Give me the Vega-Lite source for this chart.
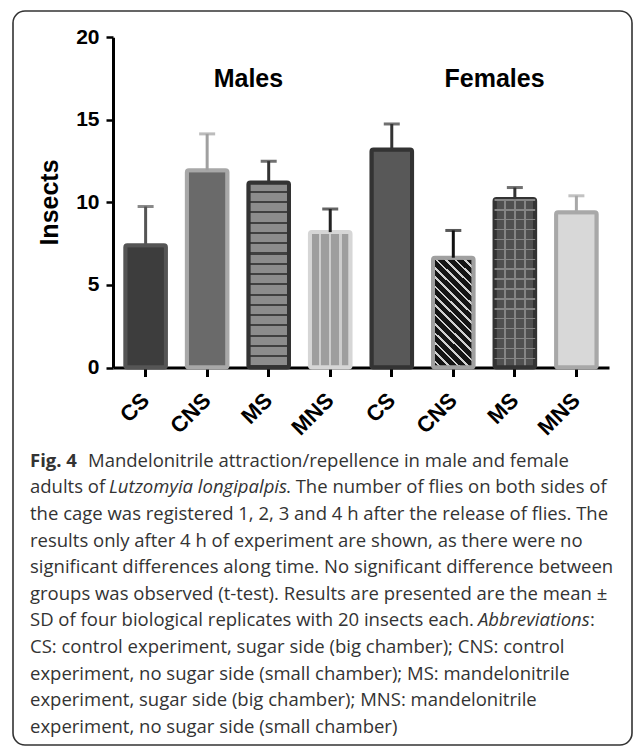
{
  "$schema": "https://vega.github.io/schema/vega-lite/v6.json",
  "width": 619,
  "height": 734,
  "autosize": {"type": "none"},
  "padding": {"left": 13, "top": 11, "right": 2, "bottom": 2},
  "background": "white",
  "view": {"stroke": "#333333", "strokeWidth": 1.6, "cornerRadius": 12},
  "config": {"font": "Liberation Sans"},
  "datasets": {
    "bars": [
      {"id": "M-CS", "group": "Males", "label": "CS", "mean": 7.4, "upper": 9.75},
      {"id": "M-CNS", "group": "Males", "label": "CNS", "mean": 11.95, "upper": 14.15},
      {"id": "M-MS", "group": "Males", "label": "MS", "mean": 11.2, "upper": 12.5},
      {"id": "M-MNS", "group": "Males", "label": "MNS", "mean": 8.2, "upper": 9.6},
      {"id": "F-CS", "group": "Females", "label": "CS", "mean": 13.2, "upper": 14.75},
      {"id": "F-CNS", "group": "Females", "label": "CNS", "mean": 6.65, "upper": 8.3},
      {"id": "F-MS", "group": "Females", "label": "MS", "mean": 10.2, "upper": 10.9},
      {"id": "F-MNS", "group": "Females", "label": "MNS", "mean": 9.4, "upper": 10.4}
    ]
  },
  "layer": [
    {
      "data": {"name": "bars"},
      "encoding": {
        "x": {
          "field": "id",
          "type": "nominal",
          "scale": {
            "domain": ["M-CS", "M-CNS", "M-MS", "M-MNS", "F-CS", "F-CNS", "F-MS", "F-MNS"],
            "range": [100, 596],
            "paddingInner": 0.34,
            "paddingOuter": 0.2
          },
          "axis": {
            "title": null,
            "offset": -377.5,
            "labelExpr": "split(datum.label, '-')[1]",
            "labelAngle": -45,
            "labelAlign": "right",
            "labelBaseline": "middle",
            "labelPadding": 20,
            "labelFont": "Liberation Sans",
            "labelFontWeight": "bold",
            "labelFontSize": 22,
            "labelColor": "black",
            "tickSize": 9,
            "tickWidth": 3,
            "tickColor": "black",
            "domainWidth": 3,
            "domainColor": "black",
            "grid": false
          }
        },
        "y": {
          "field": "mean",
          "type": "quantitative",
          "scale": {"domain": [0, 20], "range": [356.5, 26.3], "nice": false},
          "axis": {
            "title": "Insects",
            "values": [0, 5, 10, 15, 20],
            "offset": -100,
            "grid": false,
            "domainWidth": 3,
            "domainColor": "black",
            "tickColor": "black",
            "tickWidth": 2.5,
            "tickSize": 7,
            "labelFont": "Liberation Sans",
            "labelFontWeight": "bold",
            "labelFontSize": 21,
            "labelColor": "black",
            "labelPadding": 7,
            "titleFont": "Liberation Sans",
            "titleFontWeight": "bold",
            "titleFontSize": 25,
            "titleColor": "black",
            "titleAngle": -90,
            "titleAlign": "center",
            "titleBaseline": "alphabetic",
            "titleX": -56,
            "titleY": 191
          }
        }
      },
      "layer": [
        {
          "mark": {"type": "bar", "strokeWidth": 4, "cornerRadius": 2},
          "encoding": {
            "fill": {
              "condition": [
                {"test": "datum.id === 'M-MS'", "value": {"gradient": "linear", "x1": 0, "y1": 0, "x2": 0, "y2": 1, "stops": [
                  {"offset": 0, "color": "#8c8c8c"}, {"offset": 0.0444, "color": "#8c8c8c"}, {"offset": 0.0444, "color": "#404040"}, {"offset": 0.0556, "color": "#404040"},
                  {"offset": 0.0556, "color": "#8c8c8c"}, {"offset": 0.1, "color": "#8c8c8c"}, {"offset": 0.1, "color": "#404040"}, {"offset": 0.1111, "color": "#404040"},
                  {"offset": 0.1111, "color": "#8c8c8c"}, {"offset": 0.1556, "color": "#8c8c8c"}, {"offset": 0.1556, "color": "#404040"}, {"offset": 0.1667, "color": "#404040"},
                  {"offset": 0.1667, "color": "#8c8c8c"}, {"offset": 0.2111, "color": "#8c8c8c"}, {"offset": 0.2111, "color": "#404040"}, {"offset": 0.2222, "color": "#404040"},
                  {"offset": 0.2222, "color": "#8c8c8c"}, {"offset": 0.2667, "color": "#8c8c8c"}, {"offset": 0.2667, "color": "#404040"}, {"offset": 0.2778, "color": "#404040"},
                  {"offset": 0.2778, "color": "#8c8c8c"}, {"offset": 0.3222, "color": "#8c8c8c"}, {"offset": 0.3222, "color": "#404040"}, {"offset": 0.3333, "color": "#404040"},
                  {"offset": 0.3333, "color": "#8c8c8c"}, {"offset": 0.3778, "color": "#8c8c8c"}, {"offset": 0.3778, "color": "#404040"}, {"offset": 0.3889, "color": "#404040"},
                  {"offset": 0.3889, "color": "#8c8c8c"}, {"offset": 0.4333, "color": "#8c8c8c"}, {"offset": 0.4333, "color": "#404040"}, {"offset": 0.4444, "color": "#404040"},
                  {"offset": 0.4444, "color": "#8c8c8c"}, {"offset": 0.4889, "color": "#8c8c8c"}, {"offset": 0.4889, "color": "#404040"}, {"offset": 0.5, "color": "#404040"},
                  {"offset": 0.5, "color": "#8c8c8c"}, {"offset": 0.5444, "color": "#8c8c8c"}, {"offset": 0.5444, "color": "#404040"}, {"offset": 0.5556, "color": "#404040"},
                  {"offset": 0.5556, "color": "#8c8c8c"}, {"offset": 0.6, "color": "#8c8c8c"}, {"offset": 0.6, "color": "#404040"}, {"offset": 0.6111, "color": "#404040"},
                  {"offset": 0.6111, "color": "#8c8c8c"}, {"offset": 0.6556, "color": "#8c8c8c"}, {"offset": 0.6556, "color": "#404040"}, {"offset": 0.6667, "color": "#404040"},
                  {"offset": 0.6667, "color": "#8c8c8c"}, {"offset": 0.7111, "color": "#8c8c8c"}, {"offset": 0.7111, "color": "#404040"}, {"offset": 0.7222, "color": "#404040"},
                  {"offset": 0.7222, "color": "#8c8c8c"}, {"offset": 0.7667, "color": "#8c8c8c"}, {"offset": 0.7667, "color": "#404040"}, {"offset": 0.7778, "color": "#404040"},
                  {"offset": 0.7778, "color": "#8c8c8c"}, {"offset": 0.8222, "color": "#8c8c8c"}, {"offset": 0.8222, "color": "#404040"}, {"offset": 0.8333, "color": "#404040"},
                  {"offset": 0.8333, "color": "#8c8c8c"}, {"offset": 0.8778, "color": "#8c8c8c"}, {"offset": 0.8778, "color": "#404040"}, {"offset": 0.8889, "color": "#404040"},
                  {"offset": 0.8889, "color": "#8c8c8c"}, {"offset": 0.9333, "color": "#8c8c8c"}, {"offset": 0.9333, "color": "#404040"}, {"offset": 0.9444, "color": "#404040"},
                  {"offset": 0.9444, "color": "#8c8c8c"}, {"offset": 0.9889, "color": "#8c8c8c"}, {"offset": 0.9889, "color": "#404040"}, {"offset": 1, "color": "#404040"}
                ]}},
                {"test": "datum.id === 'M-MNS'", "value": {"gradient": "linear", "x1": 0, "y1": 0, "x2": 1, "y2": 0, "stops": [
                  {"offset": 0, "color": "#9e9e9e"}, {"offset": 0.22, "color": "#9e9e9e"}, {"offset": 0.22, "color": "#cdcdcd"}, {"offset": 0.28, "color": "#cdcdcd"},
                  {"offset": 0.28, "color": "#9e9e9e"}, {"offset": 0.47, "color": "#9e9e9e"}, {"offset": 0.47, "color": "#cdcdcd"}, {"offset": 0.53, "color": "#cdcdcd"},
                  {"offset": 0.53, "color": "#9e9e9e"}, {"offset": 0.72, "color": "#9e9e9e"}, {"offset": 0.72, "color": "#cdcdcd"}, {"offset": 0.78, "color": "#cdcdcd"},
                  {"offset": 0.78, "color": "#9e9e9e"}, {"offset": 1, "color": "#9e9e9e"}
                ]}},
                {"test": "datum.id === 'F-MS'", "value": {"gradient": "linear", "x1": 0, "y1": 0, "x2": 1, "y2": 0, "stops": [
                  {"offset": 0, "color": "#505050"}, {"offset": 0.23, "color": "#505050"}, {"offset": 0.23, "color": "#858585"}, {"offset": 0.27, "color": "#858585"},
                  {"offset": 0.27, "color": "#505050"}, {"offset": 0.48, "color": "#505050"}, {"offset": 0.48, "color": "#858585"}, {"offset": 0.52, "color": "#858585"},
                  {"offset": 0.52, "color": "#505050"}, {"offset": 0.73, "color": "#505050"}, {"offset": 0.73, "color": "#858585"}, {"offset": 0.77, "color": "#858585"},
                  {"offset": 0.77, "color": "#505050"}, {"offset": 1, "color": "#505050"}
                ]}},
                {"test": "datum.id === 'F-CNS'", "value": {"gradient": "linear", "x1": 0, "y1": 1, "x2": 0.438, "y2": -0.204, "stops": [
                  {"offset": 0, "color": "#151515"}, {"offset": 0.045, "color": "#151515"}, {"offset": 0.045, "color": "#d0d0d0"}, {"offset": 0.0625, "color": "#d0d0d0"},
                  {"offset": 0.0625, "color": "#151515"}, {"offset": 0.1075, "color": "#151515"}, {"offset": 0.1075, "color": "#d0d0d0"}, {"offset": 0.125, "color": "#d0d0d0"},
                  {"offset": 0.125, "color": "#151515"}, {"offset": 0.17, "color": "#151515"}, {"offset": 0.17, "color": "#d0d0d0"}, {"offset": 0.1875, "color": "#d0d0d0"},
                  {"offset": 0.1875, "color": "#151515"}, {"offset": 0.2325, "color": "#151515"}, {"offset": 0.2325, "color": "#d0d0d0"}, {"offset": 0.25, "color": "#d0d0d0"},
                  {"offset": 0.25, "color": "#151515"}, {"offset": 0.295, "color": "#151515"}, {"offset": 0.295, "color": "#d0d0d0"}, {"offset": 0.3125, "color": "#d0d0d0"},
                  {"offset": 0.3125, "color": "#151515"}, {"offset": 0.3575, "color": "#151515"}, {"offset": 0.3575, "color": "#d0d0d0"}, {"offset": 0.375, "color": "#d0d0d0"},
                  {"offset": 0.375, "color": "#151515"}, {"offset": 0.42, "color": "#151515"}, {"offset": 0.42, "color": "#d0d0d0"}, {"offset": 0.4375, "color": "#d0d0d0"},
                  {"offset": 0.4375, "color": "#151515"}, {"offset": 0.4825, "color": "#151515"}, {"offset": 0.4825, "color": "#d0d0d0"}, {"offset": 0.5, "color": "#d0d0d0"},
                  {"offset": 0.5, "color": "#151515"}, {"offset": 0.545, "color": "#151515"}, {"offset": 0.545, "color": "#d0d0d0"}, {"offset": 0.5625, "color": "#d0d0d0"},
                  {"offset": 0.5625, "color": "#151515"}, {"offset": 0.6075, "color": "#151515"}, {"offset": 0.6075, "color": "#d0d0d0"}, {"offset": 0.625, "color": "#d0d0d0"},
                  {"offset": 0.625, "color": "#151515"}, {"offset": 0.67, "color": "#151515"}, {"offset": 0.67, "color": "#d0d0d0"}, {"offset": 0.6875, "color": "#d0d0d0"},
                  {"offset": 0.6875, "color": "#151515"}, {"offset": 0.7325, "color": "#151515"}, {"offset": 0.7325, "color": "#d0d0d0"}, {"offset": 0.75, "color": "#d0d0d0"},
                  {"offset": 0.75, "color": "#151515"}, {"offset": 0.795, "color": "#151515"}, {"offset": 0.795, "color": "#d0d0d0"}, {"offset": 0.8125, "color": "#d0d0d0"},
                  {"offset": 0.8125, "color": "#151515"}, {"offset": 0.8575, "color": "#151515"}, {"offset": 0.8575, "color": "#d0d0d0"}, {"offset": 0.875, "color": "#d0d0d0"},
                  {"offset": 0.875, "color": "#151515"}, {"offset": 0.92, "color": "#151515"}, {"offset": 0.92, "color": "#d0d0d0"}, {"offset": 0.9375, "color": "#d0d0d0"},
                  {"offset": 0.9375, "color": "#151515"}, {"offset": 0.9825, "color": "#151515"}, {"offset": 0.9825, "color": "#d0d0d0"}, {"offset": 1, "color": "#d0d0d0"}
                ]}}
              ],
              "field": "id",
              "type": "nominal",
              "legend": null,
              "scale": {
                "domain": ["M-CS", "M-CNS", "M-MS", "M-MNS", "F-CS", "F-CNS", "F-MS", "F-MNS"],
                "range": ["#3d3d3d", "#6a6a6a", "#7a7a7a", "#ababab", "#585858", "#3a3a3a", "#5c5c5c", "#d8d8d8"]
              }
            },
            "stroke": {
              "field": "id",
              "type": "nominal",
              "legend": null,
              "scale": {
                "domain": ["M-CS", "M-CNS", "M-MS", "M-MNS", "F-CS", "F-CNS", "F-MS", "F-MNS"],
                "range": ["#555555", "#a8a8a8", "#333333", "#d6d6d6", "#333333", "#a0a0a0", "#333333", "#a8a8a8"]
              }
            }
          }
        },
        {
          "transform": [{"filter": "datum.id === 'F-MS'"}],
          "mark": {"type": "bar", "strokeWidth": 0, "fill": {"gradient": "linear", "x1": 0, "y1": 0, "x2": 0, "y2": 1, "stops": [
            {"offset": 0, "color": "#858585"}, {"offset": 0.009, "color": "#858585"}, {"offset": 0.009, "color": "rgba(0,0,0,0)"}, {"offset": 0.0588, "color": "rgba(0,0,0,0)"},
            {"offset": 0.0588, "color": "#858585"}, {"offset": 0.0678, "color": "#858585"}, {"offset": 0.0678, "color": "rgba(0,0,0,0)"}, {"offset": 0.1176, "color": "rgba(0,0,0,0)"},
            {"offset": 0.1176, "color": "#858585"}, {"offset": 0.1266, "color": "#858585"}, {"offset": 0.1266, "color": "rgba(0,0,0,0)"}, {"offset": 0.1765, "color": "rgba(0,0,0,0)"},
            {"offset": 0.1765, "color": "#858585"}, {"offset": 0.1855, "color": "#858585"}, {"offset": 0.1855, "color": "rgba(0,0,0,0)"}, {"offset": 0.2353, "color": "rgba(0,0,0,0)"},
            {"offset": 0.2353, "color": "#858585"}, {"offset": 0.2443, "color": "#858585"}, {"offset": 0.2443, "color": "rgba(0,0,0,0)"}, {"offset": 0.2941, "color": "rgba(0,0,0,0)"},
            {"offset": 0.2941, "color": "#858585"}, {"offset": 0.3031, "color": "#858585"}, {"offset": 0.3031, "color": "rgba(0,0,0,0)"}, {"offset": 0.3529, "color": "rgba(0,0,0,0)"},
            {"offset": 0.3529, "color": "#858585"}, {"offset": 0.3619, "color": "#858585"}, {"offset": 0.3619, "color": "rgba(0,0,0,0)"}, {"offset": 0.4118, "color": "rgba(0,0,0,0)"},
            {"offset": 0.4118, "color": "#858585"}, {"offset": 0.4208, "color": "#858585"}, {"offset": 0.4208, "color": "rgba(0,0,0,0)"}, {"offset": 0.4706, "color": "rgba(0,0,0,0)"},
            {"offset": 0.4706, "color": "#858585"}, {"offset": 0.4796, "color": "#858585"}, {"offset": 0.4796, "color": "rgba(0,0,0,0)"}, {"offset": 0.5294, "color": "rgba(0,0,0,0)"},
            {"offset": 0.5294, "color": "#858585"}, {"offset": 0.5384, "color": "#858585"}, {"offset": 0.5384, "color": "rgba(0,0,0,0)"}, {"offset": 0.5882, "color": "rgba(0,0,0,0)"},
            {"offset": 0.5882, "color": "#858585"}, {"offset": 0.5972, "color": "#858585"}, {"offset": 0.5972, "color": "rgba(0,0,0,0)"}, {"offset": 0.6471, "color": "rgba(0,0,0,0)"},
            {"offset": 0.6471, "color": "#858585"}, {"offset": 0.6561, "color": "#858585"}, {"offset": 0.6561, "color": "rgba(0,0,0,0)"}, {"offset": 0.7059, "color": "rgba(0,0,0,0)"},
            {"offset": 0.7059, "color": "#858585"}, {"offset": 0.7149, "color": "#858585"}, {"offset": 0.7149, "color": "rgba(0,0,0,0)"}, {"offset": 0.7647, "color": "rgba(0,0,0,0)"},
            {"offset": 0.7647, "color": "#858585"}, {"offset": 0.7737, "color": "#858585"}, {"offset": 0.7737, "color": "rgba(0,0,0,0)"}, {"offset": 0.8235, "color": "rgba(0,0,0,0)"},
            {"offset": 0.8235, "color": "#858585"}, {"offset": 0.8325, "color": "#858585"}, {"offset": 0.8325, "color": "rgba(0,0,0,0)"}, {"offset": 0.8824, "color": "rgba(0,0,0,0)"},
            {"offset": 0.8824, "color": "#858585"}, {"offset": 0.8914, "color": "#858585"}, {"offset": 0.8914, "color": "rgba(0,0,0,0)"}, {"offset": 0.9412, "color": "rgba(0,0,0,0)"},
            {"offset": 0.9412, "color": "#858585"}, {"offset": 0.9502, "color": "#858585"}, {"offset": 0.9502, "color": "rgba(0,0,0,0)"}, {"offset": 1, "color": "rgba(0,0,0,0)"}
          ]}},
          "encoding": {}
        },
        {
          "mark": {"type": "rule", "strokeWidth": 3},
          "encoding": {
            "y2": {"field": "upper"},
            "color": {
              "field": "id",
              "type": "nominal",
              "legend": null,
              "scale": {
                "domain": ["M-CS", "M-CNS", "M-MS", "M-MNS", "F-CS", "F-CNS", "F-MS", "F-MNS"],
                "range": ["#555555", "#a0a0a0", "#333333", "#222222", "#333333", "#111111", "#333333", "#a8a8a8"]
              }
            }
          }
        },
        {
          "mark": {"type": "tick", "thickness": 3, "size": 16},
          "encoding": {
            "y": {"field": "upper", "type": "quantitative"},
            "color": {"field": "id", "type": "nominal", "legend": null}
          }
        },
        {
          "transform": [{"filter": "datum.label === 'MS'"}],
          "mark": {"type": "text", "font": "Liberation Sans", "fontWeight": "bold", "fontSize": 25, "fill": "black", "align": "center", "baseline": "alphabetic"},
          "encoding": {
            "x": {"field": "id", "type": "nominal", "bandPosition": 0},
            "y": {"datum": 17},
            "text": {"field": "group"}
          }
        }
      ]
    },
    {
      "encoding": {
        "y": {"field": "line", "type": "quantitative", "scale": {"domain": [1, 11], "range": [455.7, 721.7]}, "axis": null},
        "text": {"field": "text"}
      },
      "layer": [
        {
          "data": {"values": [
            {"line": 2, "text": "adults of"},
            {"line": 3, "text": "the cage was registered 1, 2, 3 and 4 h after the release of flies. The"},
            {"line": 4, "text": "results only after 4 h of experiment are shown, as there were no"},
            {"line": 5, "text": "significant differences along time. No significant difference between"},
            {"line": 6, "text": "groups was observed (t-test). Results are presented are the mean ±"},
            {"line": 7, "text": "SD of four biological replicates with 20 insects each."},
            {"line": 8, "text": "CS: control experiment, sugar side (big chamber); CNS: control"},
            {"line": 9, "text": "experiment, no sugar side (small chamber); MS: mandelonitrile"},
            {"line": 10, "text": "experiment, sugar side (big chamber); MNS: mandelonitrile"},
            {"line": 11, "text": "experiment, no sugar side (small chamber)"}
          ]},
          "mark": {"type": "text", "font": "Open Sans", "fontSize": 18.5, "fill": "#333333", "align": "left", "baseline": "alphabetic"},
          "encoding": {"x": {"value": 17}}
        },
        {
          "data": {"values": [{"line": 1, "text": "Fig. 4"}]},
          "mark": {"type": "text", "font": "Open Sans", "fontWeight": "bold", "fontSize": 18.5, "fill": "#333333", "align": "left", "baseline": "alphabetic"},
          "encoding": {"x": {"value": 17}}
        },
        {
          "data": {"values": [{"line": 1, "text": "Mandelonitrile attraction/repellence in male and female"}]},
          "mark": {"type": "text", "font": "Open Sans", "fontSize": 18.5, "fill": "#333333", "align": "left", "baseline": "alphabetic"},
          "encoding": {"x": {"value": 75}}
        },
        {
          "data": {"values": [{"line": 2, "text": "Lutzomyia longipalpis"}]},
          "mark": {"type": "text", "font": "Open Sans", "fontStyle": "italic", "fontSize": 18.5, "fill": "#333333", "align": "left", "baseline": "alphabetic"},
          "encoding": {"x": {"value": 96}}
        },
        {
          "data": {"values": [{"line": 2, "text": ". The number of flies on both sides of"}]},
          "mark": {"type": "text", "font": "Open Sans", "fontSize": 18.5, "fill": "#333333", "align": "left", "baseline": "alphabetic"},
          "encoding": {"x": {"value": 273}}
        },
        {
          "data": {"values": [{"line": 7, "text": "Abbreviations"}]},
          "mark": {"type": "text", "font": "Open Sans", "fontStyle": "italic", "fontSize": 18.5, "fill": "#333333", "align": "left", "baseline": "alphabetic"},
          "encoding": {"x": {"value": 465}}
        },
        {
          "data": {"values": [{"line": 7, "text": ":"}]},
          "mark": {"type": "text", "font": "Open Sans", "fontSize": 18.5, "fill": "#333333", "align": "left", "baseline": "alphabetic"},
          "encoding": {"x": {"value": 577}}
        }
      ]
    }
  ],
  "resolve": {"scale": {"y": "independent"}}
}
